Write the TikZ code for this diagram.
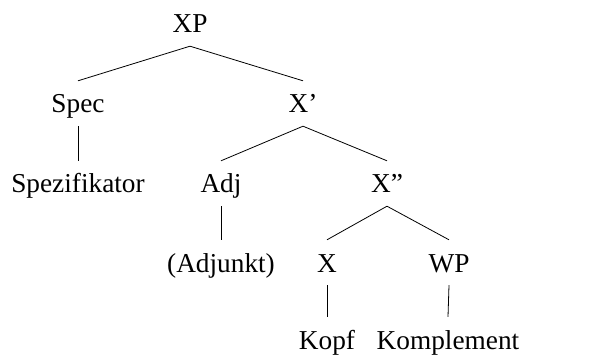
\documentclass[tikz,border=0pt]{standalone}
\usepackage{fontspec}
\setmainfont{Liberation Serif}
\begin{document}
\begin{tikzpicture}[x=1pt,y=1pt,
  cat/.style={inner sep=0pt, anchor=base, text height=32pt, text depth=13pt,
              font=\fontsize{27.3}{31}\selectfont},
  branch/.style={line width=0.8pt}]
\useasboundingbox (0,0) rectangle (605,-358);
% top level
\node[cat] (xp)   at (190,-33)  {XP};
\node[cat] (spec) at (78,-113)  {Spec};
\node[cat] (xbar) at (303,-113) {X'};
\node[cat] (spz)  at (78,-193)  {Spezifikator};
\node[cat] (adj)  at (221,-193) {Adj};
\node[cat] (xbb)  at (387,-193) {X''};
\node[cat] (adk)  at (221,-272) {(Adjunkt)};
\node[cat] (x)    at (327,-272) {X};
\node[cat] (wp)   at (449,-272) {WP};
\node[cat] (kopf) at (327,-349) {Kopf};
\node[cat] (komp) at (448,-349) {Komplement};
% branches
\draw[branch] (xp.south) -- (spec.north);
\draw[branch] (xp.south) -- (xbar.north);
\draw[branch] (spec.south) -- (spz.north);
\draw[branch] (xbar.south) -- (adj.north);
\draw[branch] (xbar.south) -- (xbb.north);
\draw[branch] (adj.south) -- (adk.north);
\draw[branch] (xbb.south) -- (x.north);
\draw[branch] (xbb.south) -- (wp.north);
\draw[branch] (x.south) -- (kopf.north);
\draw[branch] (wp.south) -- (komp.north);
\end{tikzpicture}
\end{document}
